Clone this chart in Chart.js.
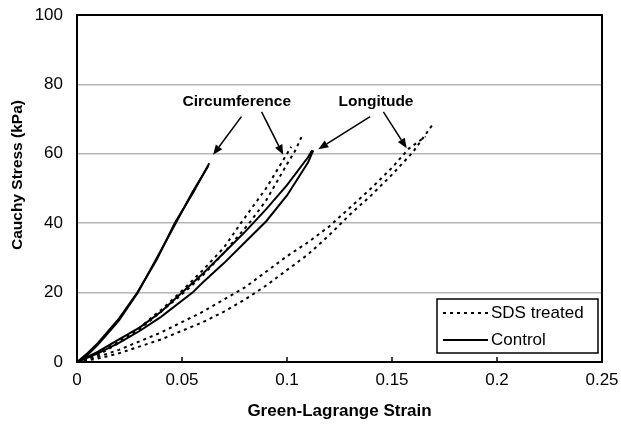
<!DOCTYPE html>
<html><head><meta charset="utf-8">
<script src="https://cdn.jsdelivr.net/npm/chart.js@4/dist/chart.umd.min.js"></script>
<style>html,body{margin:0;padding:0;background:#fff}</style>
</head><body>
<canvas id="c" width="621" height="433"></canvas>
<script>
// ---- Tick labels ----
const xTickLabels = ['0', '0.05', '0.1', '0.15', '0.2', '0.25'];
const yTickLabels = ['0', '20', '40', '60', '80', '100'];

// ---- Circumference, control (two specimens) ----
const circCtrl1Strain = [0, 0.005, 0.01, 0.015, 0.02, 0.0287, 0.038, 0.0465, 0.055, 0.063];
const circCtrl1Stress = [0, 2.5, 5.5, 9, 12.5, 20, 29.5, 40, 48.5, 57.3];
const circCtrl2Strain = [0, 0.005, 0.01, 0.015, 0.02, 0.029, 0.038, 0.047, 0.055, 0.0625];
const circCtrl2Stress = [0, 2, 5, 8.5, 12, 20, 30, 40, 49, 56.5];

// ---- Circumference, SDS treated ----
const circSds1Strain = [0, 0.01, 0.02, 0.03, 0.04, 0.05, 0.06, 0.07, 0.078, 0.09, 0.098, 0.102];
const circSds1Stress = [0, 2.5, 6, 10, 15, 20.5, 26.5, 33, 40, 50, 58, 62];
const circSds2Strain = [0, 0.01, 0.02, 0.03, 0.04, 0.05, 0.06, 0.07, 0.082, 0.09, 0.1, 0.104, 0.107];
const circSds2Stress = [0, 2, 5.5, 9.5, 14.5, 19.5, 25, 31.5, 40, 46.5, 57, 61, 65];

// ---- Longitude, control ----
const longCtrl1Strain = [0, 0.01, 0.02, 0.03, 0.04, 0.05, 0.06, 0.07, 0.08, 0.09, 0.1, 0.11, 0.112];
const longCtrl1Stress = [0, 3, 6.5, 10, 14.5, 20, 25.5, 31.5, 37.5, 44, 51, 59, 61];
const longCtrl2Strain = [0, 0.01, 0.02, 0.03, 0.04, 0.055, 0.06, 0.07, 0.08, 0.09, 0.1, 0.11, 0.1125];
const longCtrl2Stress = [0, 2.5, 5.5, 9, 13, 20, 23, 28.5, 34.5, 40.5, 48, 57.5, 61];

// ---- Longitude, SDS treated ----
const longSds1Strain = [0, 0.01, 0.02, 0.03, 0.04, 0.05, 0.06, 0.07, 0.08, 0.09, 0.1, 0.11, 0.12, 0.13, 0.14, 0.15, 0.158, 0.166];
const longSds1Stress = [0, 1.5, 3.5, 6, 8.5, 11.5, 14.5, 18, 21.5, 26, 30.5, 34.5, 39, 44.5, 50, 56, 61.5, 65];
const longSds2Strain = [0, 0.01, 0.02, 0.03, 0.04, 0.05, 0.06, 0.07, 0.08, 0.09, 0.1, 0.11, 0.12, 0.13, 0.14, 0.15, 0.16, 0.17];
const longSds2Stress = [0, 1, 2.5, 4.5, 6.5, 9, 11.5, 14.5, 18, 22, 26.5, 31, 36.5, 42.5, 48, 54, 60.5, 69];

// ---- Annotation labels ----
const labelTexts = ['Circumference', 'Longitude'];
const labelStrain = [0.0761, 0.1424];
const labelStress = [74.9, 74.9];
// arrows: from (strain, stress) to (strain, stress)
const arrowFromStrain = [0.0783, 0.0879, 0.1396, 0.1459];
const arrowFromStress = [70.7, 72.1, 70.7, 72.1];
const arrowToStrain = [0.0648, 0.0982, 0.1149, 0.157];
const arrowToStress = [59.7, 59.7, 61.3, 61.6];

const legendLabels = ['SDS treated', 'Control'];

function pts(xs, ys) { return xs.map((x, i) => ({x: x, y: ys[i]})); }

const FONT = 'Liberation Sans, Arial, Helvetica, sans-serif';
const dotted = {borderColor: '#000', borderWidth: 2, borderDash: [3, 4], pointRadius: 0, showLine: true, fill: false, tension: 0};
const solid = {borderColor: '#000', borderWidth: 2, pointRadius: 0, showLine: true, fill: false, tension: 0};

const datasets = [
  Object.assign({label: 'SDS circ 1', data: pts(circSds1Strain, circSds1Stress)}, dotted),
  Object.assign({label: 'SDS circ 2', data: pts(circSds2Strain, circSds2Stress)}, dotted),
  Object.assign({label: 'SDS long 1', data: pts(longSds1Strain, longSds1Stress)}, dotted),
  Object.assign({label: 'SDS long 2', data: pts(longSds2Strain, longSds2Stress)}, dotted),
  Object.assign({label: 'Control circ 1', data: pts(circCtrl1Strain, circCtrl1Stress)}, solid),
  Object.assign({label: 'Control circ 2', data: pts(circCtrl2Strain, circCtrl2Stress)}, solid),
  Object.assign({label: 'Control long 1', data: pts(longCtrl1Strain, longCtrl1Stress)}, solid),
  Object.assign({label: 'Control long 2', data: pts(longCtrl2Strain, longCtrl2Stress)}, solid)
];

const decor = {
  id: 'decor',
  afterDatasetsDraw(chart) {
    const ctx = chart.ctx, a = chart.chartArea, xs = chart.scales.x, ys = chart.scales.y;
    ctx.save();
    // plot border
    ctx.strokeStyle = '#000'; ctx.lineWidth = 2;
    ctx.strokeRect(a.left, a.top, a.right - a.left, a.bottom - a.top);
    // inner x tick marks
    ctx.lineWidth = 1.5;
    xs.ticks.forEach((t, i) => {
      if (i === 0 || i === xs.ticks.length - 1) return;
      const px = xs.getPixelForValue(t.value);
      ctx.beginPath(); ctx.moveTo(px, a.bottom); ctx.lineTo(px, a.bottom - 5); ctx.stroke();
    });
    // annotation labels
    ctx.fillStyle = '#000';
    ctx.font = 'bold 15.5px ' + FONT;
    ctx.textAlign = 'center'; ctx.textBaseline = 'middle';
    labelTexts.forEach((s, i) => ctx.fillText(s, xs.getPixelForValue(labelStrain[i]), ys.getPixelForValue(labelStress[i])));
    // arrows
    ctx.lineWidth = 1.5;
    arrowFromStrain.forEach((_, i) => {
      const x1 = xs.getPixelForValue(arrowFromStrain[i]), y1 = ys.getPixelForValue(arrowFromStress[i]);
      const x2 = xs.getPixelForValue(arrowToStrain[i]), y2 = ys.getPixelForValue(arrowToStress[i]);
      const ang = Math.atan2(y2 - y1, x2 - x1), L = 10, W = 4;
      const bx = x2 - L * Math.cos(ang), by = y2 - L * Math.sin(ang);
      ctx.beginPath(); ctx.moveTo(x1, y1); ctx.lineTo(bx, by); ctx.stroke();
      ctx.beginPath(); ctx.moveTo(x2, y2);
      ctx.lineTo(bx + W * Math.sin(ang), by - W * Math.cos(ang));
      ctx.lineTo(bx - W * Math.sin(ang), by + W * Math.cos(ang));
      ctx.closePath(); ctx.fill();
    });
    // y title
    ctx.font = 'bold 15.5px ' + FONT;
    ctx.translate(18, 175); ctx.rotate(-Math.PI / 2);
    ctx.fillText('Cauchy Stress (kPa)', 0, 0);
    ctx.setTransform(1, 0, 0, 1, 0, 0);
    // legend
    const lx = 437, ly = 299, lw = 161, lh = 54;
    ctx.fillStyle = '#fff'; ctx.fillRect(lx, ly, lw, lh);
    ctx.strokeStyle = '#000'; ctx.lineWidth = 1.5; ctx.strokeRect(lx, ly, lw, lh);
    ctx.lineWidth = 2; ctx.setLineDash([3, 4]);
    ctx.beginPath(); ctx.moveTo(443, 313); ctx.lineTo(488, 313); ctx.stroke();
    ctx.setLineDash([]); ctx.lineWidth = 2;
    ctx.beginPath(); ctx.moveTo(443, 340); ctx.lineTo(488, 340); ctx.stroke();
    ctx.fillStyle = '#000'; ctx.font = '17px ' + FONT; ctx.textAlign = 'left';
    ctx.fillText(legendLabels[0], 491, 313);
    ctx.fillText(legendLabels[1], 491, 340);
    ctx.restore();
  }
};

new Chart(document.getElementById('c'), {
  type: 'scatter',
  data: {datasets: datasets},
  options: {
    responsive: false, animation: false,
    layout: {padding: {top: 15, right: 19, left: 0, bottom: 0}},
    plugins: {legend: {display: false}, tooltip: {enabled: false}},
    scales: {
      x: {
        type: 'linear', min: 0, max: 0.25,
        afterFit: s => { s.height = 71; s.paddingLeft = 0; s.paddingRight = 0; },
        ticks: {stepSize: 0.05, color: '#000', padding: 8, font: {family: FONT, size: 17},
          callback: (v, i) => xTickLabels[i], maxRotation: 0},
        grid: {display: false, drawTicks: false},
        border: {display: false},
        title: {display: true, text: 'Green-Lagrange Strain', color: '#000',
          font: {family: FONT, size: 17, weight: 'bold'}, padding: {top: 0, bottom: 11}}
      },
      y: {
        type: 'linear', min: 0, max: 100,
        afterFit: s => { s.width = 77; s.paddingTop = 0; s.paddingBottom = 0; },
        ticks: {stepSize: 20, color: '#000', padding: 14, font: {family: FONT, size: 17},
          callback: (v, i) => yTickLabels[i]},
        grid: {color: '#b5b5b5', lineWidth: 1.5, drawTicks: false},
        border: {display: false}
      }
    }
  },
  plugins: [decor]
});
</script>
</body></html>
